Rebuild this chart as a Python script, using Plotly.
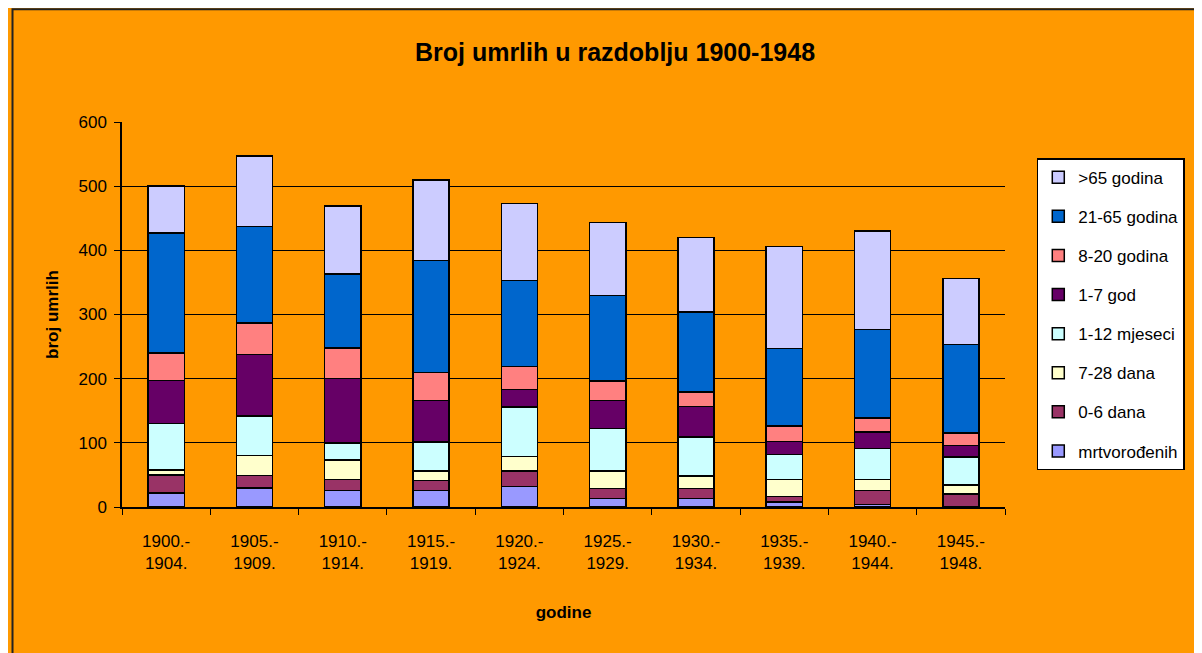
import plotly.graph_objects as go

periods = ['1900.-<br>1904.', '1905.-<br>1909.', '1910.-<br>1914.', '1915.-<br>1919.', '1920.-<br>1924.',
           '1925.-<br>1929.', '1930.-<br>1934.', '1935.-<br>1939.', '1940.-<br>1944.', '1945.-<br>1948.']

mrtvorodjenih = [22, 30, 26, 26, 32, 13, 13, 8, 4, 0]
dana_0_6 = [28, 19, 17, 15, 24, 16, 16, 8, 22, 20]
dana_7_28 = [8, 31, 30, 15, 23, 27, 19, 27, 17, 14]
mjeseci_1_12 = [72, 62, 27, 45, 77, 66, 61, 39, 48, 44]
god_1_7 = [67, 96, 100, 65, 27, 44, 48, 20, 26, 18]
godina_8_20 = [43, 49, 48, 44, 36, 30, 22, 24, 22, 19]
godina_21_65 = [187, 150, 115, 174, 134, 134, 125, 121, 138, 138]
godina_65 = [73, 110, 106, 126, 120, 113, 116, 159, 153, 103]

series = [
    ('mrtvorođenih', mrtvorodjenih, '#9999FF'),
    ('0-6 dana', dana_0_6, '#993366'),
    ('7-28 dana', dana_7_28, '#FFFFCC'),
    ('1-12 mjeseci', mjeseci_1_12, '#CCFFFF'),
    ('1-7 god', god_1_7, '#660066'),
    ('8-20 godina', godina_8_20, '#FF8080'),
    ('21-65 godina', godina_21_65, '#0066CC'),
    ('>65 godina', godina_65, '#CCCCFF'),
]

font = 'Arial, Liberation Sans, sans-serif'

fig = go.Figure()
for i, (name, vals, col) in enumerate(series):
    # top of the stack first in the legend, as in Excel
    fig.add_trace(go.Bar(x=periods, y=vals, name=name, legendgroup=str(i), legendrank=len(series) - i,
                         marker=dict(color=col, line=dict(color='black', width=1.5))))

fig.update_layout(
    width=1202, height=653,
    barmode='stack', bargap=0.59,
    paper_bgcolor='#FF9900', plot_bgcolor='#C6FFFF',
    margin=dict(l=114, r=205, t=114, b=154),
    title=dict(text='<b>Broj umrlih u razdoblju 1900-1948</b>', x=0.505, y=0.945,
               font=dict(family=font, size=25, color='black')),
    font=dict(family=font, color='black'),
    legend=dict(x=1.036, y=0.906, xanchor='left', yanchor='top',
                bgcolor='white', bordercolor='black', borderwidth=1.5,
                traceorder='grouped', tracegroupgap=14,
                font=dict(family=font, size=17, color='black')),
    shapes=[dict(type='rect', xref='paper', yref='paper', layer='below',
                 x0=-0.124, x1=1.25, y0=-0.42, y1=1.293,
                 fillcolor='#FF9900', line=dict(color='#222', width=2))],
)

fig.update_yaxes(range=[0, 600], dtick=100, showgrid=True, gridcolor='black', gridwidth=1,
                 showline=True, linecolor='black', linewidth=1.5, ticks='outside', ticklen=6,
                 tickcolor='black', tickfont=dict(size=17), zeroline=False, ticklabelstandoff=4,
                 title=dict(text='<b>broj umrlih</b>', standoff=16, font=dict(size=17)))
fig.update_xaxes(showline=True, linecolor='black', linewidth=1.5, ticks='outside', ticklen=6,
                 tickcolor='black', tickson='boundaries', tickfont=dict(size=17), ticklabelstandoff=18,
                 title=dict(text='<b>godine</b>', standoff=34, font=dict(size=17)))

fig.write_html('out.html')
